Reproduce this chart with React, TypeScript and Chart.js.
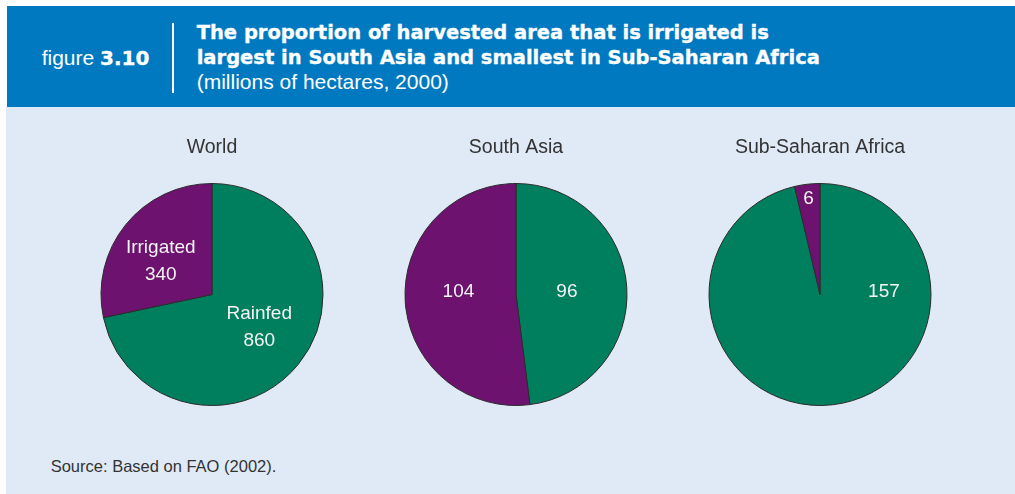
import React, { useEffect, useRef } from "react";
import { Chart, registerables } from "chart.js";

Chart.register(...registerables);

// ---- data ----
const regions = ["World", "South Asia", "Sub-Saharan Africa"];
const categories = ["Rainfed", "Irrigated"];
const rainfed = [860, 96, 157];
const irrigated = [340, 104, 6];

// label placement (angle clockwise from 12 o'clock in degrees, fraction of radius)
const labelPlacement = [
  [{ angle: 123.4, frac: 0.51, named: true }, { angle: 304.5, frac: 0.56, named: true }],
  [{ angle: 85.5, frac: 0.46, named: false }, { angle: 274, frac: 0.52, named: false }],
  [{ angle: 86.4, frac: 0.577, named: false }, { angle: 353.2, frac: 0.88, named: false }],
];

const GREEN = "#007f5f";
const PURPLE = "#6e1270";
const HEADER_BLUE = "#0079c1";
const BG_BLUE = "#dfeaf6";
const SANS = "'Liberation Sans', Arial, Helvetica, sans-serif";
const HEAVY = "'DejaVu Sans', 'Liberation Sans', sans-serif";

function makeLabelPlugin(chartIndex: number) {
  return {
    id: "sliceLabels" + chartIndex,
    afterDatasetsDraw(chart: any) {
      const meta = chart.getDatasetMeta(0);
      const ctx = chart.ctx;
      const values = chart.data.datasets[0].data as number[];
      const fs = 19;
      ctx.save();
      ctx.fillStyle = "#f4f4f4";
      ctx.font = `${fs}px ${SANS}`;
      ctx.textAlign = "center";
      ctx.textBaseline = "alphabetic";
      labelPlacement[chartIndex].forEach((p, i) => {
        const arc = meta.data[i];
        const r = arc.outerRadius * p.frac;
        const a = (p.angle * Math.PI) / 180;
        const x = arc.x + r * Math.sin(a);
        const y = arc.y - r * Math.cos(a);
        const lines = p.named ? [categories[i], String(values[i])] : [String(values[i])];
        const lh = 27;
        const y0 = y - ((lines.length - 1) * lh) / 2;
        lines.forEach((t, k) => {
          ctx.fillText(t, x, y0 + k * lh + fs * 0.358);
        });
      });
      ctx.restore();
    },
  };
}

const pieLefts = [72, 376, 680];

const heavyStyle: React.CSSProperties = {
  position: "absolute",
  fontFamily: HEAVY,
  fontWeight: "bold",
  fontSize: 19.5,
  lineHeight: "19.5px",
  whiteSpace: "nowrap",
  WebkitTextStroke: "0.35px #ffffff",
};

export default function App() {
  const r0 = useRef<HTMLCanvasElement>(null);
  const r1 = useRef<HTMLCanvasElement>(null);
  const r2 = useRef<HTMLCanvasElement>(null);

  useEffect(() => {
    const refs = [r0, r1, r2];
    const charts = regions.map((name, i) =>
      new Chart(refs[i].current as HTMLCanvasElement, {
        type: "pie",
        data: {
          labels: categories,
          datasets: [
            {
              data: [rainfed[i], irrigated[i]],
              backgroundColor: [GREEN, PURPLE],
              borderColor: "#2b2b2b",
              borderWidth: 1,
            },
          ],
        },
        options: {
          responsive: false,
          animation: false,
          events: [],
          plugins: {
            legend: { display: false },
            tooltip: { enabled: false },
            title: {
              display: true,
              text: name,
              color: "#333333",
              font: { family: SANS, size: 19.5, weight: "normal" },
              padding: { top: 6, bottom: 23.6 },
            },
          },
        },
        plugins: [makeLabelPlugin(i)],
      })
    );
    return () => charts.forEach((c) => c.destroy());
  }, []);

  const refs = [r0, r1, r2];

  return (
    <div style={{ position: "absolute", left: 0, top: 0, width: 1015, height: 494, background: "#ffffff" }}>
      {/* light blue panel */}
      <div style={{ position: "absolute", left: 6, top: 107, width: 1009, height: 387, background: BG_BLUE }} />
      {/* header */}
      <div style={{ position: "absolute", left: 7, top: 6, width: 1008, height: 101, background: HEADER_BLUE, color: "#ffffff" }}>
        <div style={{ position: "absolute", left: 34.7, top: 40.5, fontFamily: SANS, fontSize: 21, lineHeight: "21px", whiteSpace: "nowrap" }}>
          figure{" "}
          <span style={{ fontFamily: HEAVY, fontWeight: "bold", fontSize: 20, WebkitTextStroke: "0.35px #ffffff" }}>3.10</span>
        </div>
        <div style={{ position: "absolute", left: 165.2, top: 16.7, width: 1.5, height: 70, background: "#ffffff" }} />
        <div style={{ ...heavyStyle, left: 189.7, top: 16.5 }}>
          The proportion of harvested area that is irrigated is
        </div>
        <div style={{ ...heavyStyle, left: 189.7, top: 42 }}>
          largest in South Asia and smallest in Sub-Saharan Africa
        </div>
        <div style={{ position: "absolute", left: 189.7, top: 64.7, fontFamily: SANS, fontSize: 21, lineHeight: "21px", whiteSpace: "nowrap" }}>
          (millions of hectares, 2000)
        </div>
      </div>
      {/* pies */}
      {regions.map((name, i) => (
        <canvas
          key={name}
          ref={refs[i]}
          width={280}
          height={276}
          style={{ position: "absolute", left: pieLefts[i], top: 130, width: 280, height: 276 }}
        />
      ))}
      {/* source */}
      <div style={{ position: "absolute", left: 50.7, top: 458, fontFamily: SANS, fontSize: 16.5, lineHeight: "16.5px", color: "#333333", whiteSpace: "nowrap" }}>
        Source: Based on FAO (2002).
      </div>
    </div>
  );
}
